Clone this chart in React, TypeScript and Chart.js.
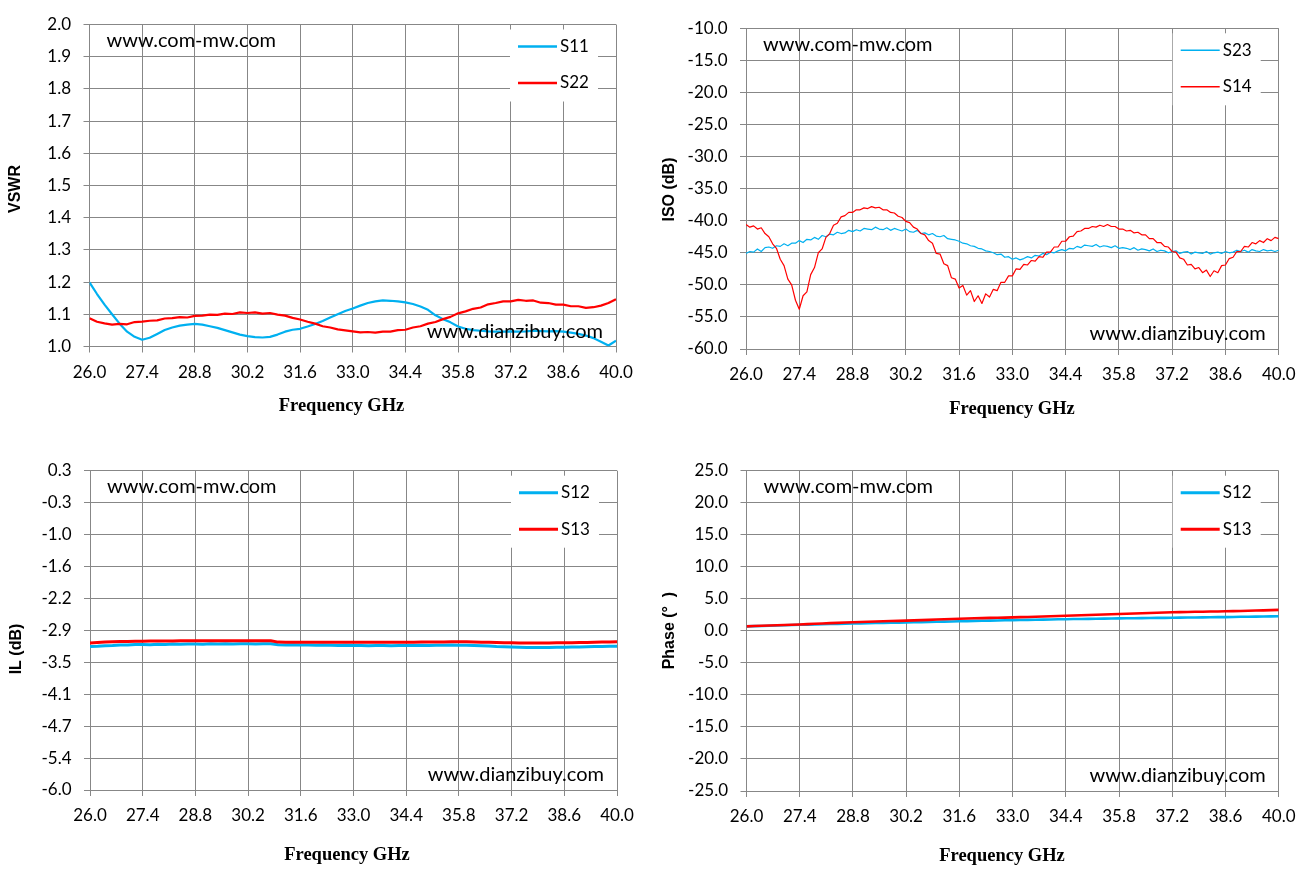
import React, { useEffect, useRef } from "react";
import { Chart, registerables } from "chart.js";

Chart.register(...registerables);

// ---------------- data ----------------
const freqTicks = [26.0, 27.4, 28.8, 30.2, 31.6, 33.0, 34.4, 35.8, 37.2, 38.6, 40.0];
const freqTickLabels = ["26.0", "27.4", "28.8", "30.2", "31.6", "33.0", "34.4", "35.8", "37.2", "38.6", "40.0"];

const freqStep02 = [
  26.0, 26.2, 26.4, 26.6, 26.8, 27.0, 27.2, 27.4, 27.6, 27.8,
  28.0, 28.2, 28.4, 28.6, 28.8, 29.0, 29.2, 29.4, 29.6, 29.8,
  30.0, 30.2, 30.4, 30.6, 30.8, 31.0, 31.2, 31.4, 31.6, 31.8,
  32.0, 32.2, 32.4, 32.6, 32.8, 33.0, 33.2, 33.4, 33.6, 33.8,
  34.0, 34.2, 34.4, 34.6, 34.8, 35.0, 35.2, 35.4, 35.6, 35.8,
  36.0, 36.2, 36.4, 36.6, 36.8, 37.0, 37.2, 37.4, 37.6, 37.8,
  38.0, 38.2, 38.4, 38.6, 38.8, 39.0, 39.2, 39.4, 39.6, 39.8,
  40.0,
];

const freqStep01 = [
  26.0, 26.1, 26.2, 26.3, 26.4, 26.5, 26.6, 26.7, 26.8, 26.9,
  27.0, 27.1, 27.2, 27.3, 27.4, 27.5, 27.6, 27.7, 27.8, 27.9,
  28.0, 28.1, 28.2, 28.3, 28.4, 28.5, 28.6, 28.7, 28.8, 28.9,
  29.0, 29.1, 29.2, 29.3, 29.4, 29.5, 29.6, 29.7, 29.8, 29.9,
  30.0, 30.1, 30.2, 30.3, 30.4, 30.5, 30.6, 30.7, 30.8, 30.9,
  31.0, 31.1, 31.2, 31.3, 31.4, 31.5, 31.6, 31.7, 31.8, 31.9,
  32.0, 32.1, 32.2, 32.3, 32.4, 32.5, 32.6, 32.7, 32.8, 32.9,
  33.0, 33.1, 33.2, 33.3, 33.4, 33.5, 33.6, 33.7, 33.8, 33.9,
  34.0, 34.1, 34.2, 34.3, 34.4, 34.5, 34.6, 34.7, 34.8, 34.9,
  35.0, 35.1, 35.2, 35.3, 35.4, 35.5, 35.6, 35.7, 35.8, 35.9,
  36.0, 36.1, 36.2, 36.3, 36.4, 36.5, 36.6, 36.7, 36.8, 36.9,
  37.0, 37.1, 37.2, 37.3, 37.4, 37.5, 37.6, 37.7, 37.8, 37.9,
  38.0, 38.1, 38.2, 38.3, 38.4, 38.5, 38.6, 38.7, 38.8, 38.9,
  39.0, 39.1, 39.2, 39.3, 39.4, 39.5, 39.6, 39.7, 39.8, 39.9,
  40.0,
];

// VSWR (0.2 GHz step)
const vswrS11 = [
  1.199, 1.163, 1.130, 1.100, 1.071, 1.046, 1.030, 1.021, 1.027, 1.039,
  1.051, 1.059, 1.065, 1.068, 1.070, 1.068, 1.063, 1.058, 1.051, 1.044,
  1.037, 1.032, 1.029, 1.028, 1.030, 1.037, 1.046, 1.052, 1.055, 1.062,
  1.070, 1.079, 1.090, 1.100, 1.110, 1.118, 1.127, 1.135, 1.140, 1.143,
  1.142, 1.140, 1.137, 1.132, 1.124, 1.114, 1.097, 1.085, 1.075, 1.062,
  1.055, 1.051, 1.049, 1.047, 1.046, 1.046, 1.047, 1.046, 1.047, 1.049,
  1.048, 1.047, 1.048, 1.046, 1.043, 1.039, 1.034, 1.026, 1.015, 1.003,
  1.018,
];
const vswrS22 = [
  1.088, 1.077, 1.072, 1.068, 1.070, 1.069, 1.076, 1.077, 1.080, 1.081,
  1.087, 1.088, 1.091, 1.090, 1.095, 1.096, 1.099, 1.098, 1.102, 1.101,
  1.106, 1.104, 1.106, 1.102, 1.104, 1.099, 1.096, 1.089, 1.084, 1.077,
  1.071, 1.063, 1.059, 1.053, 1.050, 1.047, 1.044, 1.045, 1.043, 1.046,
  1.046, 1.051, 1.052, 1.059, 1.063, 1.071, 1.076, 1.085, 1.092, 1.103,
  1.109, 1.117, 1.121, 1.131, 1.135, 1.140, 1.140, 1.145, 1.142, 1.143,
  1.136, 1.135, 1.130, 1.130, 1.125, 1.125, 1.120, 1.122, 1.127, 1.135,
  1.147,
];

// ISO (0.1 GHz step)
const isoS23 = [
  -45.1, -44.8, -44.9, -44.4, -44.8, -44.2, -44.1, -44.3, -43.9, -44.0,
  -43.6, -43.9, -43.5, -43.5, -43.1, -43.4, -42.9, -43.0, -42.6, -42.9,
  -42.3, -42.5, -42.1, -42.2, -41.8, -42.0, -41.9, -41.5, -41.7, -41.4,
  -41.6, -41.2, -41.3, -41.4, -41.0, -41.3, -41.4, -41.1, -41.5, -41.2,
  -41.4, -41.6, -41.3, -41.7, -41.8, -41.5, -42.0, -41.9, -42.2, -42.0,
  -42.4, -42.5, -42.3, -42.8, -42.9, -43.0, -43.2, -43.5, -43.6, -43.9,
  -44.0, -44.3, -44.4, -44.7, -44.8, -45.0, -45.3, -45.2, -45.7, -45.6,
  -46.0, -45.8, -46.1, -45.9, -45.6, -45.8, -45.4, -45.5, -45.1, -45.3,
  -44.9, -45.0, -44.7, -44.5, -44.7, -44.3, -44.4, -44.0, -44.2, -43.8,
  -43.9, -44.0, -43.7, -44.1, -43.9, -44.0, -44.2, -43.9, -44.3, -44.2,
  -44.3, -44.5, -44.2, -44.6, -44.4, -44.5, -44.7, -44.4, -44.8, -44.6,
  -44.7, -45.0, -44.8, -44.7, -45.1, -44.9, -44.8, -45.2, -44.9, -45.0,
  -45.1, -44.8, -45.2, -45.0, -44.9, -45.1, -44.8, -45.0, -44.9, -44.6,
  -44.8, -44.6, -44.9, -44.5, -44.7, -44.8, -44.5, -44.7, -44.6, -44.8,
  -44.6,
];
const isoS14 = [
  -40.6, -41.0, -40.8, -41.3, -41.1, -42.0, -42.5, -43.6, -44.3, -46.0,
  -47.0, -49.1, -50.0, -52.4, -53.8, -51.7, -51.1, -48.4, -47.3, -45.0,
  -44.4, -42.6, -42.0, -40.7, -40.4, -39.4, -39.2, -38.7, -38.7, -38.3,
  -38.3, -38.0, -38.1, -37.8, -38.0, -37.9, -38.3, -38.3, -38.7, -38.8,
  -39.3, -39.5, -40.1, -40.3, -41.0, -41.3, -42.0, -42.2, -43.1, -43.5,
  -45.1, -45.2, -46.7, -47.0, -48.9, -49.1, -50.5, -50.1, -51.6, -50.9,
  -52.6, -51.7, -52.9, -51.4, -51.9, -50.7, -50.9, -49.6, -49.6, -48.6,
  -48.6, -47.5, -47.6, -46.8, -46.9, -46.2, -46.3, -45.6, -45.7, -44.9,
  -44.9, -44.1, -44.1, -43.2, -43.2, -42.5, -42.4, -41.7, -41.6, -41.2,
  -41.2, -40.9, -41.0, -40.7, -40.9, -40.6, -40.9, -40.9, -41.3, -41.3,
  -41.6, -41.5, -41.9, -41.8, -42.2, -42.2, -42.8, -42.8, -43.4, -43.4,
  -44.0, -44.1, -44.8, -44.9, -45.8, -46.0, -46.9, -46.8, -47.5, -47.3,
  -48.1, -47.7, -48.7, -47.8, -48.1, -47.0, -46.9, -45.9, -45.7, -44.8,
  -44.8, -44.0, -44.1, -43.4, -43.6, -43.1, -43.4, -42.8, -43.1, -42.6,
  -42.8,
];

// IL (0.2 GHz step)
const ilS12 = [
  -3.170, -3.165, -3.155, -3.150, -3.140, -3.140, -3.130, -3.130, -3.135, -3.125,
  -3.130, -3.120, -3.125, -3.120, -3.120, -3.125, -3.115, -3.120, -3.115, -3.120,
  -3.115, -3.115, -3.120, -3.115, -3.115, -3.135, -3.140, -3.135, -3.140, -3.140,
  -3.145, -3.140, -3.145, -3.150, -3.145, -3.150, -3.150, -3.155, -3.150, -3.150,
  -3.155, -3.150, -3.150, -3.150, -3.145, -3.150, -3.145, -3.145, -3.140, -3.145,
  -3.145, -3.150, -3.155, -3.160, -3.170, -3.175, -3.180, -3.185, -3.190, -3.190,
  -3.190, -3.190, -3.185, -3.185, -3.180, -3.180, -3.175, -3.170, -3.170, -3.165,
  -3.165,
];
const ilS13 = [
  -3.100, -3.090, -3.080, -3.075, -3.070, -3.068, -3.065, -3.063, -3.062, -3.060,
  -3.060, -3.058, -3.057, -3.056, -3.055, -3.056, -3.055, -3.056, -3.055, -3.055,
  -3.056, -3.055, -3.056, -3.055, -3.054, -3.082, -3.084, -3.085, -3.084, -3.085,
  -3.085, -3.086, -3.085, -3.086, -3.085, -3.086, -3.087, -3.086, -3.087, -3.086,
  -3.085, -3.086, -3.085, -3.083, -3.082, -3.080, -3.079, -3.078, -3.076, -3.075,
  -3.077, -3.080, -3.083, -3.087, -3.091, -3.094, -3.097, -3.099, -3.100, -3.100,
  -3.100, -3.098, -3.097, -3.095, -3.093, -3.090, -3.088, -3.085, -3.082, -3.079,
  -3.076,
];

// Phase (0.2 GHz step)
const phaseS12 = [
  0.70, 0.73, 0.76, 0.80, 0.83, 0.87, 0.91, 0.95, 0.97, 1.01,
  1.03, 1.06, 1.09, 1.12, 1.15, 1.17, 1.19, 1.22, 1.24, 1.26,
  1.29, 1.31, 1.34, 1.36, 1.39, 1.41, 1.44, 1.47, 1.50, 1.52,
  1.55, 1.57, 1.60, 1.62, 1.65, 1.68, 1.70, 1.72, 1.74, 1.76,
  1.78, 1.80, 1.82, 1.84, 1.85, 1.87, 1.89, 1.91, 1.92, 1.94,
  1.96, 1.97, 1.99, 2.00, 2.02, 2.03, 2.05, 2.06, 2.08, 2.09,
  2.11, 2.12, 2.14, 2.15, 2.17, 2.19, 2.20, 2.22, 2.24, 2.26,
  2.28,
];
const phaseS13 = [
  0.70, 0.75, 0.79, 0.83, 0.87, 0.92, 0.96, 1.00, 1.05, 1.10,
  1.15, 1.20, 1.25, 1.30, 1.35, 1.39, 1.42, 1.46, 1.49, 1.53,
  1.56, 1.60, 1.64, 1.68, 1.72, 1.77, 1.81, 1.86, 1.90, 1.93,
  1.96, 1.99, 2.02, 2.05, 2.07, 2.10, 2.14, 2.17, 2.21, 2.24,
  2.28, 2.31, 2.35, 2.39, 2.43, 2.47, 2.51, 2.55, 2.59, 2.63,
  2.67, 2.71, 2.75, 2.79, 2.83, 2.87, 2.90, 2.92, 2.94, 2.97,
  2.99, 3.01, 3.03, 3.05, 3.08, 3.11, 3.14, 3.17, 3.20, 3.24,
  3.28,
];

// y-axis ticks
const vswrTicks = [1.0, 1.1, 1.2, 1.3, 1.4, 1.5, 1.6, 1.7, 1.8, 1.9, 2.0];
const vswrTickLabels = ["1.0", "1.1", "1.2", "1.3", "1.4", "1.5", "1.6", "1.7", "1.8", "1.9", "2.0"];
const isoTicks = [-60, -55, -50, -45, -40, -35, -30, -25, -20, -15, -10];
const isoTickLabels = ["-60.0", "-55.0", "-50.0", "-45.0", "-40.0", "-35.0", "-30.0", "-25.0", "-20.0", "-15.0", "-10.0"];
const ilTicks = [-6.0, -5.37, -4.74, -4.11, -3.48, -2.85, -2.22, -1.59, -0.96, -0.33, 0.3];
const ilTickLabels = ["-6.0", "-5.4", "-4.7", "-4.1", "-3.5", "-2.9", "-2.2", "-1.6", "-1.0", "-0.3", "0.3"];
const phaseTicks = [-25, -20, -15, -10, -5, 0, 5, 10, 15, 20, 25];
const phaseTickLabels = ["-25.0", "-20.0", "-15.0", "-10.0", "-5.0", "0.0", "5.0", "10.0", "15.0", "20.0", "25.0"];

const watermarkTop = "www.com-mw.com";
const watermarkBottom = "www.dianzibuy.com";
const xAxisTitle = "Frequency GHz";

// ---------------- styles ----------------
const BLUE = "#00B0F0";
const RED = "#FF0000";
const GRID = "#878787";
const SANS = "Lato, 'Open Sans', sans-serif";
const ARIAL = "'Liberation Sans', Arial, sans-serif";
const SERIF = "'Liberation Serif', 'Times New Roman', serif";

type SeriesCfg = { label: string; color: string; xs: number[]; ys: number[]; order: number };
type PanelCfg = {
  left: number; top: number; w: number; h: number;
  yW: number; padR: number; padT: number; xH: number;
  yTicks: number[]; yLabels: string[];
  yTitle: string; yTitlePos: [number, number]; xTitlePos: [number, number];
  lineWidth: number; legendLineWidth: number;
  series: SeriesCfg[];
};

const panels: PanelCfg[] = [
  {
    left: 0, top: 0, w: 650, h: 438, yW: 89.5, padR: 34, padT: 24.5, xH: 91.5,
    yTicks: vswrTicks, yLabels: vswrTickLabels,
    yTitle: "VSWR", yTitlePos: [16, 189], xTitlePos: [341.5, 406],
    lineWidth: 2.2, legendLineWidth: 2.5,
    series: [
      { label: "S11", color: BLUE, xs: freqStep02, ys: vswrS11, order: 1 },
      { label: "S22", color: RED, xs: freqStep02, ys: vswrS22, order: 0 },
    ],
  },
  {
    left: 650, top: 0, w: 655, h: 438, yW: 96, padR: 22, padT: 28.3, xH: 89,
    yTicks: isoTicks, yLabels: isoTickLabels,
    yTitle: "ISO (dB)", yTitlePos: [19.6, 189.5], xTitlePos: [362, 409.3],
    lineWidth: 1.2, legendLineWidth: 1.5,
    series: [
      { label: "S23", color: BLUE, xs: freqStep01, ys: isoS23, order: 1 },
      { label: "S14", color: RED, xs: freqStep01, ys: isoS14, order: 0 },
    ],
  },
  {
    left: 0, top: 438, w: 650, h: 438, yW: 90, padR: 33, padT: 32.7, xH: 86,
    yTicks: ilTicks, yLabels: ilTickLabels,
    yTitle: "IL (dB)", yTitlePos: [16.7, 211], xTitlePos: [347, 417],
    lineWidth: 3, legendLineWidth: 3,
    series: [
      { label: "S12", color: BLUE, xs: freqStep02, ys: ilS12, order: 1 },
      { label: "S13", color: RED, xs: freqStep02, ys: ilS13, order: 0 },
    ],
  },
  {
    left: 650, top: 438, w: 655, h: 438, yW: 96.5, padR: 22, padT: 32.7, xH: 85,
    yTicks: phaseTicks, yLabels: phaseTickLabels,
    yTitle: "Phase (°  )", yTitlePos: [19.6, 192.6], xTitlePos: [352, 418],
    lineWidth: 2.6, legendLineWidth: 3,
    series: [
      { label: "S12", color: BLUE, xs: freqStep02, ys: phaseS12, order: 1 },
      { label: "S13", color: RED, xs: freqStep02, ys: phaseS13, order: 0 },
    ],
  },
];

function makeOverlay(p: PanelCfg) {
  return {
    id: "overlay",
    afterDatasetsDraw(chart: any) {
      const { ctx, chartArea: a } = chart;
      ctx.save();
      // legend inside plot area
      const bw = 88, bh = 72;
      const bx = a.right - 18 - bw;
      const by = a.top + 5;
      ctx.fillStyle = "#ffffff";
      ctx.fillRect(bx, by, bw, bh);
      ctx.font = `17px ${SANS}`;
      ctx.textBaseline = "middle";
      ctx.textAlign = "left";
      chart.data.datasets.forEach((ds: any, i: number) => {
        const y = a.top + 22 + i * 36.5;
        ctx.strokeStyle = ds.borderColor;
        ctx.lineWidth = p.legendLineWidth;
        ctx.beginPath();
        ctx.moveTo(bx + 8, y);
        ctx.lineTo(bx + 47, y);
        ctx.stroke();
        ctx.fillStyle = "#000";
        ctx.fillText(ds.label, bx + 50, y);
      });
      // watermarks
      ctx.font = `20px ${SANS}`;
      ctx.fillStyle = "#000";
      ctx.textAlign = "left";
      ctx.fillText(watermarkTop, a.left + 17, a.top + 16);
      ctx.textAlign = "right";
      ctx.fillText(watermarkBottom, a.right - 13, a.bottom - 15);
      // axis titles
      ctx.textAlign = "center";
      ctx.font = `bold 18.5px ${SERIF}`;
      ctx.fillText(xAxisTitle, p.xTitlePos[0], p.xTitlePos[1]);
      ctx.translate(p.yTitlePos[0], p.yTitlePos[1]);
      ctx.rotate(-Math.PI / 2);
      ctx.font = `bold 16px ${ARIAL}`;
      ctx.fillText(p.yTitle, 0, 0);
      ctx.restore();
    },
  };
}

function Panel({ p }: { p: PanelCfg }) {
  const ref = useRef<HTMLCanvasElement>(null);
  useEffect(() => {
    if (!ref.current) return;
    const chart = new Chart(ref.current, {
      type: "line",
      data: {
        datasets: p.series.map((s) => ({
          label: s.label,
          data: s.xs.map((x, i) => ({ x, y: s.ys[i] })),
          borderColor: s.color,
          backgroundColor: s.color,
          borderWidth: p.lineWidth,
          pointRadius: 0,
          tension: 0,
          borderJoinStyle: "round" as const,
          order: s.order,
        })),
      },
      options: {
        responsive: false,
        animation: false,
        events: [],
        layout: { padding: { top: p.padT, right: p.padR, left: 0, bottom: 0 } },
        plugins: { legend: { display: false }, tooltip: { enabled: false }, title: { display: false } },
        scales: {
          x: {
            type: "linear",
            min: 26,
            max: 40,
            afterBuildTicks: (scale: any) => {
              scale.ticks = freqTicks.map((v) => ({ value: v }));
            },
            afterFit: (scale: any) => {
              scale.height = p.xH;
            },
            ticks: {
              autoSkip: false,
              maxRotation: 0,
              padding: 9.5,
              color: "#000",
              font: { family: SANS, size: 17 },
              callback: (_v: any, i: number) => freqTickLabels[i],
            },
            grid: { color: GRID, lineWidth: 1, tickLength: 6, drawTicks: true },
            border: { color: GRID, width: 1 },
          },
          y: {
            type: "linear",
            min: p.yTicks[0],
            max: p.yTicks[p.yTicks.length - 1],
            afterBuildTicks: (scale: any) => {
              scale.ticks = p.yTicks.map((v) => ({ value: v }));
            },
            afterFit: (scale: any) => {
              scale.width = p.yW;
            },
            ticks: {
              autoSkip: false,
              padding: 12.5,
              color: "#000",
              font: { family: SANS, size: 17 },
              callback: (_v: any, i: number) => p.yLabels[i],
            },
            grid: { color: GRID, lineWidth: 1, tickLength: 6, drawTicks: true },
            border: { color: GRID, width: 1 },
          },
        },
      } as any,
      plugins: [makeOverlay(p)],
    });
    return () => chart.destroy();
  }, [p]);
  return (
    <canvas
      ref={ref}
      width={p.w}
      height={p.h}
      style={{ position: "absolute", left: p.left, top: p.top, width: p.w, height: p.h }}
    />
  );
}

export default function App() {
  return (
    <div style={{ position: "fixed", left: 0, top: 0, width: 1305, height: 876, background: "#ffffff" }}>
      {panels.map((p, i) => (
        <Panel key={i} p={p} />
      ))}
    </div>
  );
}
